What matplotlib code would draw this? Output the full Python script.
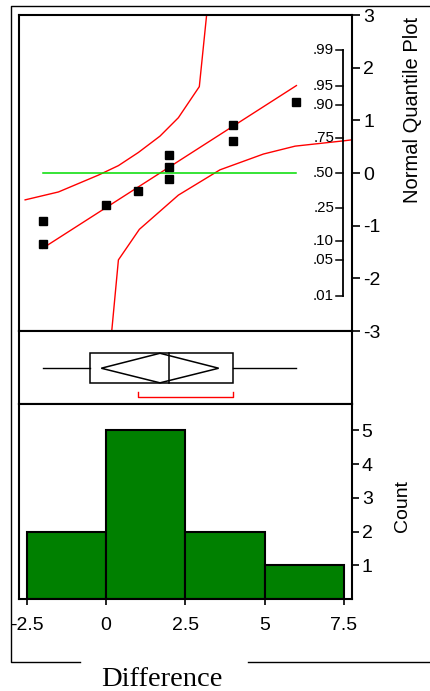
import numpy as np
import matplotlib.pyplot as plt
from matplotlib.lines import Line2D
from matplotlib.patches import Polygon, Rectangle

plt.rcParams['font.family'] = ['Liberation Sans', 'DejaVu Sans']
plt.rcParams['axes.unicode_minus'] = False

# data: Difference values and what JMP drew from them
diff = [-2, -2, 0, 1, 2, 2, 2, 4, 4, 6]
quantiles = [-1.34, -0.91, -0.60, -0.35, -0.11, 0.11, 0.35, 0.60, 0.91, 1.34]

fit_x = [-2, 6]
fit_z = [-1.43, 1.66]
median_line_x = [-2, 6]
median_line_z = [0, 0]

band_up_x = [-2.55, -1.50, -0.24, 0.39, 1.02, 1.70, 2.28, 2.94, 3.17]
band_up_z = [-0.51, -0.36, -0.04, 0.14, 0.39, 0.70, 1.05, 1.64, 3.0]
band_lo_x = [0.18, 0.39, 1.05, 2.28, 3.59, 4.96, 5.96, 7.48, 7.75]
band_lo_z = [-3.0, -1.65, -1.07, -0.42, 0.06, 0.36, 0.51, 0.61, 0.63]

prob_labels = ['.01', '.05', '.10', '.25', '.50', '.75', '.90', '.95', '.99']
prob_z = [-2.326, -1.645, -1.282, -0.674, 0.0, 0.674, 1.282, 1.645, 2.326]

# box plot summary
whisker_lo, whisker_hi = -2, 6
q1, med, q3 = -0.5, 2, 4
mean, ci_lo, ci_hi = 1.7, -0.15, 3.55
short_lo, short_hi = 1, 4

# histogram
bin_edges = [-2.5, 0, 2.5, 5]
bin_width = 2.5
counts = [2, 5, 2, 1]
xticks = [-2.5, 0, 2.5, 5, 7.5]

W, H = 430, 691
fig = plt.figure(figsize=(W / 100, H / 100), dpi=100)


def box(left, top, right, bottom):
    return [left / W, 1 - bottom / H, (right - left) / W, (bottom - top) / H]


xlim = (-2.743, 7.752)
ax_q = fig.add_axes(box(19, 15, 352, 331))
ax_b = fig.add_axes(box(19, 331, 352, 404))
ax_h = fig.add_axes(box(19, 404, 352, 599))

for ax in (ax_q, ax_b, ax_h):
    ax.set_xlim(*xlim)
    for s in ax.spines.values():
        s.set_linewidth(1.5)
    ax.tick_params(left=False, labelleft=False, bottom=False, labelbottom=False)

# --- normal quantile plot
ax_q.set_ylim(-3, 3)
ax_q.plot(band_up_x, band_up_z, color='red', lw=1)
ax_q.plot(band_lo_x, band_lo_z, color='red', lw=1)
ax_q.plot(fit_x, fit_z, color='red', lw=1)
ax_q.plot(median_line_x, median_line_z, color='#00dd00', lw=1.1)
ax_q.plot(diff, quantiles, 's', color='black', ms=5.2, zorder=5)
ax_q.yaxis.tick_right()
ax_q.set_yticks([-3, -2, -1, 0, 1, 2, 3])
ax_q.tick_params(axis='y', right=True, labelright=True, direction='out',
                 length=6, width=1.2, pad=2, labelsize=14)

tr = ax_q.get_yaxis_transform()
ax_q.plot([0.974, 0.974], [prob_z[0], prob_z[-1]], color='black', lw=1.3,
          transform=tr, clip_on=False)
for lab, z in zip(prob_labels, prob_z):
    ax_q.plot([0.953, 0.974], [z, z], color='black', lw=1.1, transform=tr, clip_on=False)
    ax_q.text(0.946, z, lab, transform=tr, ha='right', va='center', fontsize=10.8)

fig.text(413 / W, 1 - 110 / H, 'Normal Quantile Plot', rotation=90,
         ha='center', va='center', fontsize=14.5)

# --- outlier box plot
ax_b.set_ylim(0, 1)
ax_b.plot([whisker_lo, q1], [0.49, 0.49], color='black', lw=1)
ax_b.plot([q3, whisker_hi], [0.49, 0.49], color='black', lw=1)
ax_b.add_patch(Rectangle((q1, 0.29), q3 - q1, 0.405, fill=False, ec='black', lw=1.1))
ax_b.plot([med, med], [0.29, 0.695], color='black', lw=1.1)
ax_b.add_patch(Polygon([[ci_lo, 0.49], [mean, 0.695], [ci_hi, 0.49], [mean, 0.29]],
                       closed=True, fill=False, ec='black', lw=1.1))
ax_b.plot([short_lo, short_lo, short_hi, short_hi], [0.17, 0.1, 0.1, 0.17],
          color='red', lw=1)

# --- histogram
ax_h.bar(bin_edges, counts, width=bin_width, align='edge', color='green',
         edgecolor='black', lw=1.5)
ax_h.set_ylim(0, 5.78)
ax_h.yaxis.tick_right()
ax_h.set_yticks([1, 2, 3, 4, 5])
ax_h.tick_params(axis='y', right=True, labelright=True, direction='out',
                 length=5, width=1.2, pad=2, labelsize=14)
ax_h.set_xticks(xticks)
ax_h.set_xticklabels(['-2.5', '0', '2.5', '5', '7.5'])
ax_h.tick_params(axis='x', bottom=True, labelbottom=True, direction='out',
                 length=4, width=1.2, pad=9, labelsize=14)
fig.text(403 / W, 1 - 506 / H, 'Count', rotation=90, ha='center', va='center',
         fontsize=14)

# --- outer frame and axis title
def fline(xs, ys):
    fig.add_artist(Line2D([x / W for x in xs], [1 - y / H for y in ys],
                          color='black', lw=1))

fline([430, 11, 11, 80], [6, 6, 662, 662])
fline([248, 430], [662, 662])
fig.text(161.7 / W, 1 - 685.5 / H, 'Difference', ha='center', va='baseline',
         fontsize=20.5, family=['Liberation Serif', 'DejaVu Serif'])

fig.savefig('out.png', dpi=100)
